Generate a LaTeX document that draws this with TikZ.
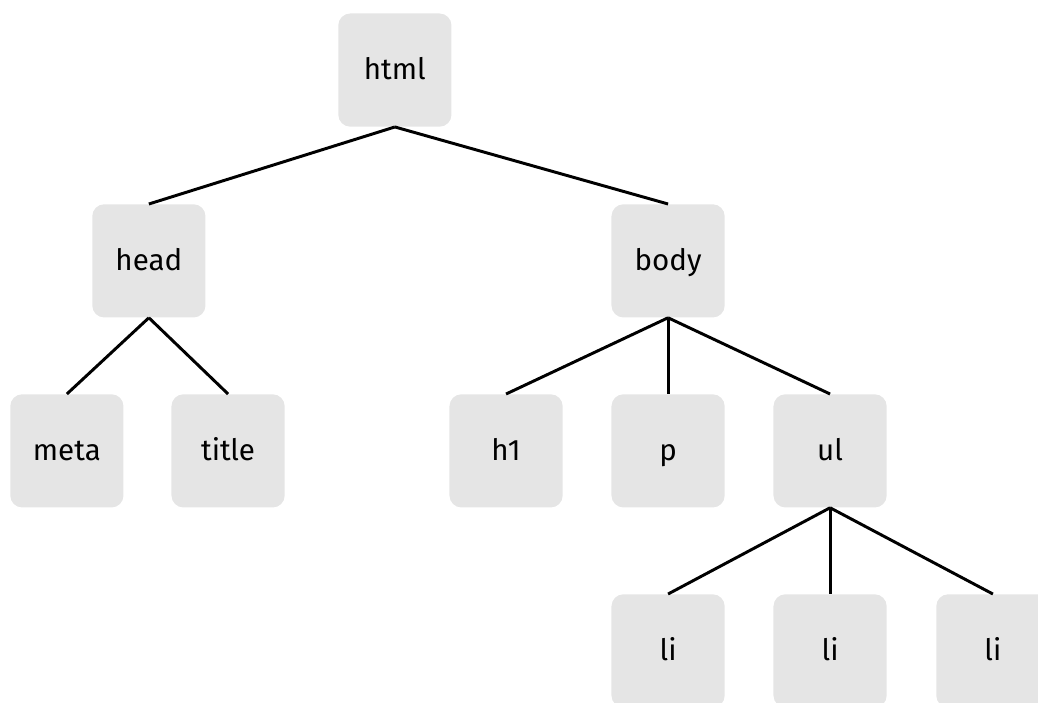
\documentclass[tikz,border=0pt]{standalone}
\usepackage{fontspec}
\setmainfont{Fira Sans}
\usepackage{tikz}
\definecolor{grisboite}{HTML}{E5E5E5}
\tikzstyle{balise} = [rectangle, fill=grisboite, rounded corners=0.3cm, minimum height=2.83cm, minimum width=2.83cm, inner sep=0pt, text height=1.3em, text depth=0pt, text centered, font=\fontsize{21}{25}\selectfont]
\tikzstyle{lien} = [line width=2.1pt, black]

\begin{document}
\begin{tikzpicture}

        \useasboundingbox (0,0) rectangle (25.95,-17.55);

        \node (html) [balise, anchor=north west] at (8.45,-0.33) {html};

        \node (head) [balise, anchor=north west] at (2.3,-5.1) {head};
        \node (body) [balise, anchor=north west] at (15.28,-5.1) {body};

        \node (meta) [balise, anchor=north west] at (0.25,-9.85) {meta};
        \node (title) [balise, anchor=north west] at (4.28,-9.85) {title};
        \node (h1) [balise, anchor=north west] at (11.23,-9.85) {h1};
        \node (p) [balise, anchor=north west] at (15.28,-9.85) {p};
        \node (ul) [balise, anchor=north west] at (19.33,-9.85) {ul};

        \node (li1) [balise, anchor=north west] at (15.28,-14.85) {li};
        \node (li2) [balise, anchor=north west] at (19.33,-14.85) {li};
        \node (li3) [balise, anchor=north west] at (23.4,-14.85) {li};


        \draw [lien] (html.south) -- (head.north);
        \draw [lien] (html.south) -- (body.north);
        \draw [lien] (head.south) -- (meta.north);
        \draw [lien] (head.south) -- (title.north);
        \draw [lien] (body.south) -- (h1.north);
        \draw [lien] (body.south) -- (p.north);
        \draw [lien] (body.south) -- (ul.north);
        \draw [lien] (ul.south) -- (li1.north);
        \draw [lien] (ul.south) -- (li2.north);
        \draw [lien] (ul.south) -- (li3.north);

    \end{tikzpicture}
\end{document}
